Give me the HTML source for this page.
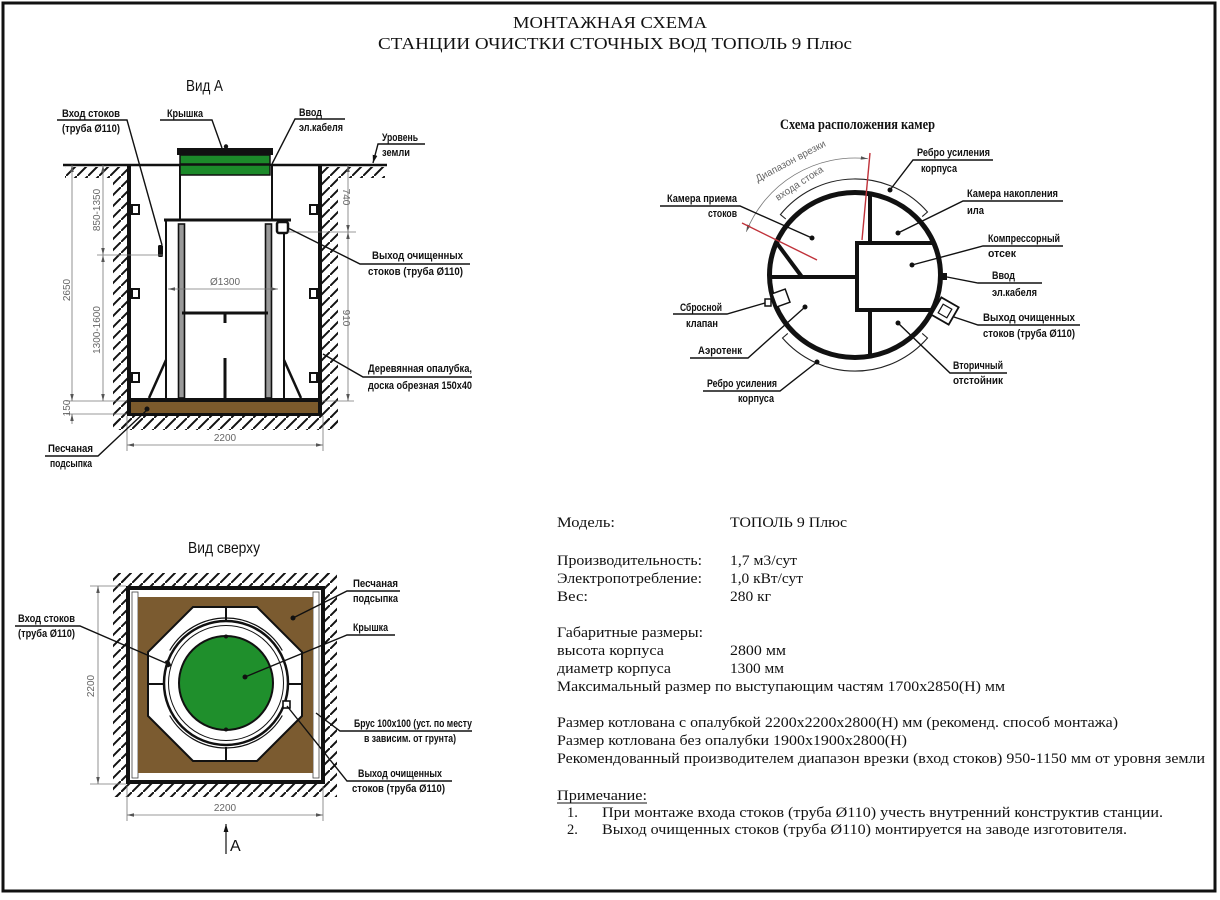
<!DOCTYPE html>
<html lang="ru">
<head>
<meta charset="utf-8">
<title>Монтажная схема Тополь 9 Плюс</title>
<style>
html,body{margin:0;padding:0;background:#fff;}
svg{display:block;}
.l{font-family:"Liberation Sans","DejaVu Sans",sans-serif;font-size:11px;font-weight:bold;fill:#111;}
.d{font-family:"Liberation Sans","DejaVu Sans",sans-serif;font-size:10px;fill:#666;}
.s{font-family:"Liberation Serif","DejaVu Serif",serif;font-size:14.5px;fill:#111;}
.t{font-family:"Liberation Serif","DejaVu Serif",serif;font-size:17px;fill:#111;}
.h{font-family:"Liberation Sans","DejaVu Sans",sans-serif;font-size:16px;fill:#111;}
.ln{stroke:#111;stroke-width:1.4;fill:none;}
.dm{stroke:#777;stroke-width:0.8;fill:none;}
</style>
</head>
<body>
<svg width="1220" height="900" viewBox="0 0 1220 900" xmlns="http://www.w3.org/2000/svg">
<defs>
  <pattern id="hat" patternUnits="userSpaceOnUse" width="11" height="11">
    <line x1="-1" y1="12" x2="12" y2="-1" stroke="#111" stroke-width="2"/>
  </pattern>
  <marker id="ar" viewBox="0 0 10 10" refX="10" refY="5" markerUnits="userSpaceOnUse" markerWidth="7" markerHeight="7" orient="auto-start-reverse">
    <path d="M0,2.5 L10,5 L0,7.5z" fill="#555"/>
  </marker>
  <marker id="arb" viewBox="0 0 10 10" refX="10" refY="5" markerUnits="userSpaceOnUse" markerWidth="8" markerHeight="8" orient="auto-start-reverse">
    <path d="M0,2 L10,5 L0,8z" fill="#111"/>
  </marker>
</defs>

<!-- frame -->
<rect x="3" y="3" width="1212" height="888" fill="none" stroke="#111" stroke-width="3"/>

<!-- title -->
<text class="t" x="513" y="28" textLength="194" lengthAdjust="spacingAndGlyphs">МОНТАЖНАЯ СХЕМА</text>
<text class="t" x="378" y="49" textLength="474" lengthAdjust="spacingAndGlyphs">СТАНЦИИ ОЧИСТКИ СТОЧНЫХ ВОД ТОПОЛЬ 9 Плюс</text>

<!-- ================= ВИД А ================= -->
<text class="h" x="186" y="91" textLength="37" lengthAdjust="spacingAndGlyphs">Вид А</text>

<!-- hatching -->
<rect x="113" y="167" width="14" height="263" fill="url(#hat)"/>
<rect x="322" y="167" width="16" height="263" fill="url(#hat)"/>
<rect x="65" y="167" width="48" height="11" fill="url(#hat)"/>
<rect x="338" y="167" width="47" height="11" fill="url(#hat)"/>
<rect x="113" y="416" width="225" height="14" fill="url(#hat)"/>

<!-- ground line -->
<line x1="63" y1="165" x2="387" y2="165" stroke="#111" stroke-width="2.5"/>

<!-- pit walls -->
<rect x="127" y="165" width="4" height="251" fill="#111"/>
<rect x="318" y="165" width="4" height="251" fill="#111"/>
<rect x="127" y="413" width="195" height="3" fill="#111"/>
<rect x="131" y="402" width="187" height="11" fill="#7b5a2c"/>
<rect x="131" y="398" width="187" height="4" fill="#111"/>

<!-- tabs -->
<g fill="#fff" stroke="#111" stroke-width="2">
  <rect x="132" y="205" width="7" height="9"/>
  <rect x="132" y="289" width="7" height="9"/>
  <rect x="132" y="373" width="7" height="9"/>
  <rect x="310" y="205" width="7" height="9"/>
  <rect x="310" y="289" width="7" height="9"/>
  <rect x="310" y="373" width="7" height="9"/>
</g>

<!-- container -->
<line x1="166" y1="220" x2="166" y2="398" stroke="#111" stroke-width="2"/>
<line x1="284" y1="220" x2="284" y2="398" stroke="#111" stroke-width="2"/>
<rect x="178.5" y="224" width="6" height="174" fill="#999" stroke="#111" stroke-width="1.6"/>
<rect x="265.5" y="224" width="6" height="174" fill="#999" stroke="#111" stroke-width="1.6"/>
<rect x="180" y="165" width="92" height="55" fill="#fff" stroke="#111" stroke-width="2"/>
<line x1="164" y1="220" x2="291" y2="220" stroke="#111" stroke-width="3"/>
<rect x="180" y="155" width="90" height="20" fill="#1c8a2a" stroke="#111" stroke-width="1.5"/>
<line x1="180" y1="164.5" x2="270" y2="164.5" stroke="#111" stroke-width="2.5"/>
<rect x="177" y="148" width="96" height="7" fill="#111"/>
<circle cx="226" cy="146.5" r="2.2" fill="#111"/>
<rect x="277" y="222" width="11" height="11" rx="2" fill="#fff" stroke="#111" stroke-width="2.5"/>
<rect x="158" y="245" width="5" height="12" rx="1.5" fill="#111"/>
<line x1="182" y1="313" x2="268" y2="313" stroke="#111" stroke-width="3"/>
<line x1="225" y1="314" x2="225" y2="323" stroke="#111" stroke-width="3"/>
<line x1="225" y1="358" x2="225" y2="398" stroke="#111" stroke-width="3"/>
<line x1="166" y1="360" x2="149" y2="398" stroke="#111" stroke-width="2.5"/>
<line x1="284" y1="360" x2="301" y2="398" stroke="#111" stroke-width="2.5"/>

<!-- Ø1300 -->
<line x1="168" y1="289" x2="278" y2="289" class="dm" marker-start="url(#ar)" marker-end="url(#ar)"/>
<text class="d" x="225" y="285" text-anchor="middle">Ø1300</text>

<!-- left dims -->
<line x1="97" y1="255" x2="163" y2="255" class="dm"/>
<line x1="66" y1="401" x2="127" y2="401" class="dm"/>
<line x1="66" y1="414" x2="127" y2="414" class="dm"/>
<line x1="72" y1="165" x2="72" y2="401" class="dm" marker-start="url(#ar)" marker-end="url(#ar)"/>
<line x1="72" y1="414" x2="72" y2="424" class="dm" marker-start="url(#ar)"/>
<line x1="103" y1="165" x2="103" y2="255" class="dm" marker-start="url(#ar)" marker-end="url(#ar)"/>
<line x1="103" y1="255" x2="103" y2="401" class="dm" marker-start="url(#ar)" marker-end="url(#ar)"/>
<text class="d" transform="translate(70,290) rotate(-90)" text-anchor="middle">2650</text>
<text class="d" transform="translate(100,210) rotate(-90)" text-anchor="middle">850-1350</text>
<text class="d" transform="translate(100,330) rotate(-90)" text-anchor="middle">1300-1600</text>
<text class="d" transform="translate(70,408) rotate(-90)" text-anchor="middle">150</text>

<!-- right dims -->
<line x1="288" y1="232" x2="356" y2="232" class="dm"/>
<line x1="322" y1="401" x2="354" y2="401" class="dm"/>
<line x1="348" y1="165" x2="348" y2="232" class="dm" marker-start="url(#ar)" marker-end="url(#ar)"/>
<line x1="348" y1="232" x2="348" y2="401" class="dm" marker-start="url(#ar)" marker-end="url(#ar)"/>
<text class="d" transform="translate(343,197) rotate(90)" text-anchor="middle">740</text>
<text class="d" transform="translate(343,318) rotate(90)" text-anchor="middle">910</text>

<!-- 2200 bottom -->
<line x1="127" y1="416" x2="127" y2="451" class="dm"/>
<line x1="323" y1="416" x2="323" y2="451" class="dm"/>
<line x1="127" y1="445" x2="323" y2="445" class="dm" marker-start="url(#ar)" marker-end="url(#ar)"/>
<text class="d" x="225" y="441" text-anchor="middle" font-size="11">2200</text>

<!-- Vid A labels -->
<text class="l" x="62" y="117" textLength="58" lengthAdjust="spacingAndGlyphs">Вход стоков</text>
<text class="l" x="62" y="132" textLength="58" lengthAdjust="spacingAndGlyphs">(труба Ø110)</text>
<polyline class="ln" points="57,120 127,120 162,245"/>

<text class="l" x="167" y="117" textLength="36" lengthAdjust="spacingAndGlyphs">Крышка</text>
<polyline class="ln" points="160,120 212,120 222,148"/>

<text class="l" x="299" y="116" textLength="23" lengthAdjust="spacingAndGlyphs">Ввод</text>
<text class="l" x="299" y="131" textLength="44" lengthAdjust="spacingAndGlyphs">эл.кабеля</text>
<polyline class="ln" points="345,119 295,119 272,164"/>

<text class="l" x="382" y="141" textLength="36" lengthAdjust="spacingAndGlyphs">Уровень</text>
<text class="l" x="382" y="156" textLength="28" lengthAdjust="spacingAndGlyphs">земли</text>
<polyline class="ln" points="425,144 378,144 373,163" marker-end="url(#arb)"/>

<text class="l" x="372" y="259" textLength="91" lengthAdjust="spacingAndGlyphs">Выход очищенных</text>
<text class="l" x="368" y="275" textLength="95" lengthAdjust="spacingAndGlyphs">стоков (труба Ø110)</text>
<polyline class="ln" points="470,264 360,264 288,228"/>

<text class="l" x="368" y="372" textLength="104" lengthAdjust="spacingAndGlyphs">Деревянная опалубка,</text>
<text class="l" x="368" y="389" textLength="104" lengthAdjust="spacingAndGlyphs">доска обрезная 150х40</text>
<polyline class="ln" points="472,377 363,377 323,354"/>

<text class="l" x="48" y="452" textLength="45" lengthAdjust="spacingAndGlyphs">Песчаная</text>
<text class="l" x="50" y="467" textLength="42" lengthAdjust="spacingAndGlyphs">подсыпка</text>
<polyline class="ln" points="45,456 98,456 147,410"/>
<circle cx="147" cy="409" r="2.5" fill="#111"/>

<!-- ================= СХЕМА КАМЕР ================= -->
<text class="s" x="780" y="129" font-size="11.5" font-weight="bold" textLength="155" lengthAdjust="spacingAndGlyphs">Схема расположения камер</text>

<!-- rib arcs -->
<path d="M785.8,219 L780.4,214.6 A96,96 0 0,1 927.5,212 L922.2,216.6" fill="none" stroke="#222" stroke-width="1.1"/>
<path d="M787.8,333.4 L782.5,338 A96,96 0 0,0 927.5,338 L922.2,333.4" fill="none" stroke="#222" stroke-width="1.1"/>

<!-- dimension arc -->
<path d="M746.3,231.7 A117,117 0 0,1 867.8,158.7" class="dm" marker-start="url(#ar)" marker-end="url(#ar)"/>
<text class="d" font-size="10" transform="translate(792,164) rotate(-28)" text-anchor="middle">Диапазон врезки</text>
<text class="d" font-size="10" transform="translate(801,186) rotate(-33)" text-anchor="middle">входа стока</text>

<!-- circle -->
<ellipse cx="855" cy="275" rx="85.5" ry="82.5" fill="#fff" stroke="#111" stroke-width="5"/>
<g stroke="#111" stroke-width="4" fill="none">
  <line x1="870" y1="193" x2="870" y2="243"/>
  <polyline points="934,243 857,243 857,310 932,310"/>
  <line x1="870" y1="310" x2="870" y2="357"/>
  <line x1="771" y1="277" x2="857" y2="277"/>
  <line x1="776" y1="242" x2="802" y2="277"/>
</g>
<!-- red lines -->
<line x1="862" y1="240" x2="870" y2="153" stroke="#c0323a" stroke-width="1.4"/>
<line x1="742" y1="223" x2="817" y2="260" stroke="#c0323a" stroke-width="1.4"/>

<!-- cable / outlet / valve -->
<rect x="940" y="273" width="7" height="7" fill="#111"/>
<g transform="translate(945,311) rotate(30)">
  <rect x="-10" y="-10" width="20" height="20" fill="#fff" stroke="#111" stroke-width="1.8"/>
  <rect x="-5" y="-5" width="10" height="10" fill="none" stroke="#111" stroke-width="1.2"/>
</g>
<g transform="translate(781,298) rotate(-20)">
  <rect x="-7" y="-7" width="14" height="14" fill="#fff" stroke="#111" stroke-width="1.5"/>
</g>
<rect x="765" y="299" width="6" height="7" fill="#fff" stroke="#111" stroke-width="1.5"/>

<!-- dots -->
<g fill="#111">
  <circle cx="890" cy="190" r="2.5"/>
  <circle cx="812" cy="238" r="2.5"/>
  <circle cx="898" cy="233" r="2.5"/>
  <circle cx="912" cy="265" r="2.5"/>
  <circle cx="805" cy="307" r="2.5"/>
  <circle cx="898" cy="323" r="2.5"/>
  <circle cx="817" cy="362" r="2.5"/>
</g>

<!-- labels -->
<text class="l" x="917" y="156" textLength="73" lengthAdjust="spacingAndGlyphs">Ребро усиления</text>
<text class="l" x="921" y="172" textLength="36" lengthAdjust="spacingAndGlyphs">корпуса</text>
<polyline class="ln" points="993,160 913,160 890,190"/>

<text class="l" x="667" y="202" textLength="70" lengthAdjust="spacingAndGlyphs">Камера приема</text>
<text class="l" x="708" y="217" textLength="29" lengthAdjust="spacingAndGlyphs">стоков</text>
<polyline class="ln" points="660,206 740,206 812,238"/>

<text class="l" x="967" y="197" textLength="91" lengthAdjust="spacingAndGlyphs">Камера накопления</text>
<text class="l" x="967" y="214" textLength="17" lengthAdjust="spacingAndGlyphs">ила</text>
<polyline class="ln" points="1063,201 963,201 898,233"/>

<text class="l" x="988" y="242" textLength="72" lengthAdjust="spacingAndGlyphs">Компрессорный</text>
<text class="l" x="988" y="257" textLength="28" lengthAdjust="spacingAndGlyphs">отсек</text>
<polyline class="ln" points="1063,246 983,246 912,265"/>

<text class="l" x="992" y="279" textLength="23" lengthAdjust="spacingAndGlyphs">Ввод</text>
<text class="l" x="992" y="296" textLength="45" lengthAdjust="spacingAndGlyphs">эл.кабеля</text>
<polyline class="ln" points="947,277 978,283 1042,283"/>

<text class="l" x="983" y="321" textLength="92" lengthAdjust="spacingAndGlyphs">Выход очищенных</text>
<text class="l" x="983" y="337" textLength="92" lengthAdjust="spacingAndGlyphs">стоков (труба Ø110)</text>
<polyline class="ln" points="954,317 978,325 1080,325"/>

<text class="l" x="680" y="311" textLength="42" lengthAdjust="spacingAndGlyphs">Сбросной</text>
<text class="l" x="686" y="327" textLength="32" lengthAdjust="spacingAndGlyphs">клапан</text>
<polyline class="ln" points="673,314 727,314 765,303"/>

<text class="l" x="698" y="354" textLength="44" lengthAdjust="spacingAndGlyphs">Аэротенк</text>
<polyline class="ln" points="690,358 748,358 805,307"/>

<text class="l" x="707" y="387" textLength="70" lengthAdjust="spacingAndGlyphs">Ребро усиления</text>
<text class="l" x="738" y="402" textLength="36" lengthAdjust="spacingAndGlyphs">корпуса</text>
<polyline class="ln" points="703,391 780,391 817,362"/>

<text class="l" x="953" y="369" textLength="50" lengthAdjust="spacingAndGlyphs">Вторичный</text>
<text class="l" x="953" y="384" textLength="50" lengthAdjust="spacingAndGlyphs">отстойник</text>
<polyline class="ln" points="1007,373 950,373 898,323"/>

<!-- ================= ВИД СВЕРХУ ================= -->
<text class="h" x="188" y="553" textLength="72" lengthAdjust="spacingAndGlyphs">Вид сверху</text>

<rect x="113" y="573" width="224" height="13" fill="url(#hat)"/>
<rect x="113" y="784" width="224" height="13" fill="url(#hat)"/>
<rect x="113" y="573" width="13" height="224" fill="url(#hat)"/>
<rect x="325" y="573" width="12" height="224" fill="url(#hat)"/>

<rect x="128" y="588" width="195" height="194" fill="#fff" stroke="#111" stroke-width="4"/>
<rect x="132" y="592" width="6" height="186" fill="#fff" stroke="#444" stroke-width="0.8"/>
<rect x="313" y="592" width="6" height="186" fill="#fff" stroke="#444" stroke-width="0.8"/>
<rect x="138" y="597" width="175" height="176" fill="#7b5b30"/>

<polygon points="193,607 257,607 302,652 302,716 257,761 193,761 148,716 148,652" fill="#fff" stroke="#111" stroke-width="2"/>
<g stroke="#111" stroke-width="2">
  <line x1="226" y1="607" x2="226" y2="621"/>
  <line x1="226" y1="747" x2="226" y2="761"/>
  <line x1="148" y1="684" x2="163" y2="684"/>
  <line x1="287" y1="684" x2="302" y2="684"/>
</g>
<circle cx="226" cy="683" r="62" fill="#fff" stroke="#111" stroke-width="2.5"/>
<circle cx="226" cy="683" r="57.5" fill="none" stroke="#111" stroke-width="1"/>
<path d="M172.3,652 A62,62 0 0,1 279.7,652" fill="none" stroke="#111" stroke-width="1"/>
<path d="M172.3,714 A62,62 0 0,0 279.7,714" fill="none" stroke="#111" stroke-width="1"/>
<path d="M169.7,650.5 A65,65 0 0,1 282.3,650.5" fill="none" stroke="#111" stroke-width="1.2"/>
<path d="M169.7,715.5 A65,65 0 0,0 282.3,715.5" fill="none" stroke="#111" stroke-width="1.2"/>
<circle cx="226" cy="683" r="47" fill="#1f8f2c" stroke="#111" stroke-width="2"/>
<circle cx="226" cy="636.5" r="2" fill="#111"/>
<circle cx="226" cy="729.5" r="2" fill="#111"/>
<rect x="166" y="660" width="4" height="7" fill="#111" transform="rotate(-25 168 663)"/>
<rect x="283" y="701" width="7" height="7" fill="#fff" stroke="#111" stroke-width="1.6"/>
<circle cx="293" cy="618" r="2.5" fill="#111"/>
<circle cx="245" cy="677" r="2.5" fill="#111"/>

<!-- top view dims -->
<line x1="90" y1="586" x2="126" y2="586" class="dm"/>
<line x1="90" y1="784" x2="126" y2="784" class="dm"/>
<line x1="98" y1="586" x2="98" y2="784" class="dm" marker-start="url(#ar)" marker-end="url(#ar)"/>
<text class="d" font-size="11" transform="translate(94,686) rotate(-90)" text-anchor="middle">2200</text>
<line x1="127" y1="786" x2="127" y2="821" class="dm"/>
<line x1="323" y1="786" x2="323" y2="821" class="dm"/>
<line x1="127" y1="815" x2="323" y2="815" class="dm" marker-start="url(#ar)" marker-end="url(#ar)"/>
<text class="d" font-size="11" x="225" y="811" text-anchor="middle">2200</text>

<!-- A arrow -->
<line x1="226" y1="824" x2="226" y2="854" stroke="#111" stroke-width="1.2" marker-start="url(#arb)"/>
<text class="h" x="230" y="851" font-size="15">A</text>

<!-- top view labels -->
<text class="l" x="353" y="587" textLength="45" lengthAdjust="spacingAndGlyphs">Песчаная</text>
<text class="l" x="353" y="602" textLength="45" lengthAdjust="spacingAndGlyphs">подсыпка</text>
<polyline class="ln" points="400,591 347,591 293,618"/>

<text class="l" x="353" y="631" textLength="35" lengthAdjust="spacingAndGlyphs">Крышка</text>
<polyline class="ln" points="395,635 347,635 245,677"/>

<text class="l" x="18" y="622" textLength="57" lengthAdjust="spacingAndGlyphs">Вход стоков</text>
<text class="l" x="18" y="637" textLength="57" lengthAdjust="spacingAndGlyphs">(труба Ø110)</text>
<polyline class="ln" points="15,626 80,626 168,664"/>

<text class="l" x="354" y="727" textLength="118" lengthAdjust="spacingAndGlyphs">Брус 100х100 (уст. по месту</text>
<text class="l" x="364" y="742" textLength="92" lengthAdjust="spacingAndGlyphs">в зависим. от грунта)</text>
<polyline class="ln" points="472,731 340,731 316,713"/>

<text class="l" x="358" y="777" textLength="84" lengthAdjust="spacingAndGlyphs">Выход очищенных</text>
<text class="l" x="352" y="792" textLength="93" lengthAdjust="spacingAndGlyphs">стоков (труба Ø110)</text>
<polyline class="ln" points="452,781 347,781 287,706"/>

<!-- ================= TEXT BLOCK ================= -->
<text class="s" x="557" y="527" textLength="58" lengthAdjust="spacingAndGlyphs">Модель:</text>
<text class="s" x="730" y="527" textLength="117" lengthAdjust="spacingAndGlyphs">ТОПОЛЬ 9 Плюс</text>

<text class="s" x="557" y="565" textLength="145" lengthAdjust="spacingAndGlyphs">Производительность:</text>
<text class="s" x="730" y="565" textLength="67" lengthAdjust="spacingAndGlyphs">1,7 м3/сут</text>
<text class="s" x="557" y="583" textLength="145" lengthAdjust="spacingAndGlyphs">Электропотребление:</text>
<text class="s" x="730" y="583" textLength="73" lengthAdjust="spacingAndGlyphs">1,0 кВт/сут</text>
<text class="s" x="557" y="601" textLength="31" lengthAdjust="spacingAndGlyphs">Вес:</text>
<text class="s" x="730" y="601" textLength="41" lengthAdjust="spacingAndGlyphs">280 кг</text>

<text class="s" x="557" y="637" textLength="146" lengthAdjust="spacingAndGlyphs">Габаритные размеры:</text>
<text class="s" x="557" y="655" textLength="107" lengthAdjust="spacingAndGlyphs">высота корпуса</text>
<text class="s" x="730" y="655" textLength="56" lengthAdjust="spacingAndGlyphs">2800 мм</text>
<text class="s" x="557" y="673" textLength="114" lengthAdjust="spacingAndGlyphs">диаметр корпуса</text>
<text class="s" x="730" y="673" textLength="54" lengthAdjust="spacingAndGlyphs">1300 мм</text>
<text class="s" x="557" y="691" textLength="448" lengthAdjust="spacingAndGlyphs">Максимальный размер по выступающим частям 1700х2850(Н) мм</text>

<text class="s" x="557" y="727" textLength="561" lengthAdjust="spacingAndGlyphs">Размер котлована с опалубкой 2200х2200х2800(Н) мм (рекоменд. способ монтажа)</text>
<text class="s" x="557" y="745" textLength="350" lengthAdjust="spacingAndGlyphs">Размер котлована без опалубки 1900х1900х2800(Н)</text>
<text class="s" x="557" y="763" textLength="648" lengthAdjust="spacingAndGlyphs">Рекомендованный производителем диапазон врезки (вход стоков) 950-1150 мм от уровня земли</text>

<text class="s" x="557" y="800" textLength="90" lengthAdjust="spacingAndGlyphs">Примечание:</text>
<line x1="557" y1="803" x2="647" y2="803" stroke="#111" stroke-width="1"/>
<text class="s" x="567" y="817">1.</text>
<text class="s" x="602" y="817" textLength="561" lengthAdjust="spacingAndGlyphs">При монтаже входа  стоков (труба  Ø110) учесть внутренний конструктив станции.</text>
<text class="s" x="567" y="834">2.</text>
<text class="s" x="602" y="834" textLength="525" lengthAdjust="spacingAndGlyphs">Выход очищенных стоков (труба  Ø110) монтируется на заводе изготовителя.</text>
</svg>
</body>
</html>
